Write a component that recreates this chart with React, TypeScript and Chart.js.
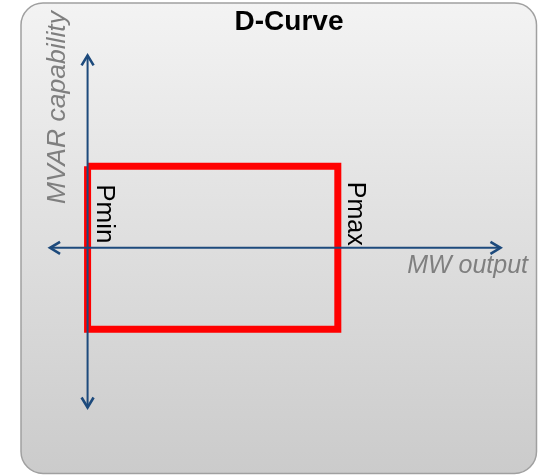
import React, { useEffect, useRef } from "react";
import { Chart, registerables } from "chart.js";

Chart.register(...registerables);

// Operating limits (MW output, MVAR capability)
const pLimits = [0, 100]; // Pmin, Pmax
const qLimits = [-50, 50]; // Qmin, Qmax
// Axis arrow extents
const mwAxisRange = [-15, 165];
const mvarAxisRange = [-98, 118];
// Texts
const titleText = "D-Curve";
const limitLabels = ["Pmin", "Pmax"];
const xAxisTitle = "MW output";
const yAxisTitle = "MVAR capability";

const FONT = "'Liberation Sans', Arial, sans-serif";
const AXIS_COLOR = "#1d4a7c";

const decorPlugin = {
  id: "decor",
  beforeDraw(chart: any) {
    const { ctx, width, height } = chart;
    const l = 21, t = 3, r = width - 1.5, b = height - 2.5, rad = 22;
    ctx.save();
    const g = ctx.createLinearGradient(0, t, 0, b);
    g.addColorStop(0, "#f3f3f3");
    g.addColorStop(1, "#cbcbcb");
    ctx.beginPath();
    ctx.moveTo(l + rad, t);
    ctx.lineTo(r - rad, t);
    ctx.arcTo(r, t, r, t + rad, rad);
    ctx.lineTo(r, b - rad);
    ctx.arcTo(r, b, r - rad, b, rad);
    ctx.lineTo(l + rad, b);
    ctx.arcTo(l, b, l, b - rad, rad);
    ctx.lineTo(l, t + rad);
    ctx.arcTo(l, t, l + rad, t, rad);
    ctx.closePath();
    ctx.fillStyle = g;
    ctx.fill();
    ctx.lineWidth = 1.5;
    ctx.strokeStyle = "#a0a0a0";
    ctx.stroke();
    ctx.restore();
  },
  afterDatasetsDraw(chart: any) {
    const { ctx } = chart;
    const xs = chart.scales.x;
    const ys = chart.scales.y;
    const X = (v: number) => xs.getPixelForValue(v);
    const Y = (v: number) => ys.getPixelForValue(v);

    // arrowheads
    const chevron = (tx: number, ty: number, dx: number, dy: number) => {
      const len = 10, hw = 6;
      const px = -dy, py = dx;
      ctx.beginPath();
      ctx.moveTo(tx - dx * len + px * hw, ty - dy * len + py * hw);
      ctx.lineTo(tx, ty);
      ctx.lineTo(tx - dx * len - px * hw, ty - dy * len - py * hw);
      ctx.stroke();
    };
    ctx.save();
    ctx.strokeStyle = AXIS_COLOR;
    ctx.lineWidth = 2.6;
    ctx.lineJoin = "miter";
    ctx.lineCap = "butt";
    chevron(X(mwAxisRange[1]), Y(0), 1, 0);
    chevron(X(mwAxisRange[0]), Y(0), -1, 0);
    chevron(X(0), Y(mvarAxisRange[1]), 0, -1);
    chevron(X(0), Y(mvarAxisRange[0]), 0, 1);
    ctx.restore();

    // title
    ctx.save();
    ctx.fillStyle = "#000";
    ctx.font = `bold 28px ${FONT}`;
    ctx.textAlign = "center";
    ctx.textBaseline = "alphabetic";
    ctx.fillText(titleText, 289, 30);
    ctx.restore();

    // Pmin / Pmax labels (rotated clockwise)
    ctx.save();
    ctx.fillStyle = "#000";
    ctx.textBaseline = "alphabetic";
    ctx.textAlign = "left";
    const offs = [[9, 18], [10, 15.5]];
    const sizes = [26, 25];
    pLimits.forEach((p, i) => {
      ctx.save();
      ctx.font = `${sizes[i]}px ${FONT}`;
      ctx.translate(X(p) + offs[i][0], Y(qLimits[1]) + offs[i][1]);
      ctx.rotate(Math.PI / 2);
      ctx.fillText(limitLabels[i], 0, 0);
      ctx.restore();
    });
    ctx.restore();

    // axis titles
    ctx.save();
    ctx.fillStyle = "#7f7f7f";
    ctx.font = `italic 25px ${FONT}`;
    ctx.textAlign = "right";
    ctx.textBaseline = "alphabetic";
    ctx.fillText(xAxisTitle, 528, 273);
    ctx.translate(65, 204);
    ctx.rotate(-Math.PI / 2);
    ctx.textAlign = "left";
    ctx.font = `italic 26.5px ${FONT}`;
    ctx.fillText(yAxisTitle, 0, 0);
    ctx.restore();
  },
};

export default function App() {
  const ref = useRef<HTMLCanvasElement | null>(null);
  useEffect(() => {
    if (!ref.current) return;
    const rect = [
      { x: pLimits[0], y: qLimits[1] },
      { x: pLimits[1], y: qLimits[1] },
      { x: pLimits[1], y: qLimits[0] },
      { x: pLimits[0], y: qLimits[0] },
      { x: pLimits[0], y: qLimits[1] },
    ];
    const chart = new Chart(ref.current, {
      type: "scatter",
      data: {
        datasets: [
          {
            data: [
              { x: mwAxisRange[0], y: 0 },
              { x: mwAxisRange[1], y: 0 },
            ],
            showLine: true,
            borderColor: AXIS_COLOR,
            borderWidth: 2,
            pointRadius: 0,
            order: 1,
          } as any,
          {
            data: [
              { x: 0, y: mvarAxisRange[0] },
              { x: 0, y: mvarAxisRange[1] },
            ],
            showLine: true,
            borderColor: AXIS_COLOR,
            borderWidth: 2,
            pointRadius: 0,
            order: 0,
          } as any,
          {
            data: rect,
            showLine: true,
            borderColor: "#ff0000",
            borderWidth: 7,
            borderJoinStyle: "miter",
            borderCapStyle: "butt",
            pointRadius: 0,
            order: 2,
          } as any,
        ],
      },
      options: {
        animation: false,
        responsive: false,
        maintainAspectRatio: false,
        layout: { padding: 0 },
        plugins: {
          legend: { display: false },
          tooltip: { enabled: false },
          title: { display: false },
        },
        scales: {
          x: { type: "linear", display: false, min: -35, max: 180 },
          y: { type: "linear", display: false, min: -140, max: 152 },
        },
        events: [],
      },
      plugins: [decorPlugin],
    });
    return () => chart.destroy();
  }, []);
  return (
    <div style={{ position: "absolute", left: 0, top: 0, width: 538, height: 476 }}>
      <canvas ref={ref} width={538} height={476} style={{ width: 538, height: 476 }} />
    </div>
  );
}
